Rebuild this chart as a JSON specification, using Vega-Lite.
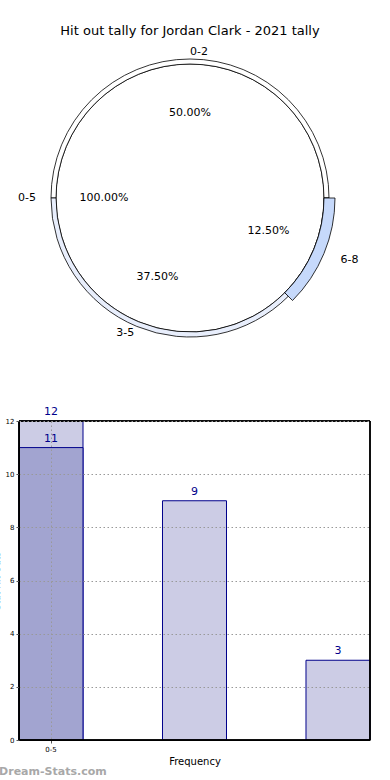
{
  "$schema": "https://vega.github.io/schema/vega-lite/v6.json",
  "padding": {"left": -8, "top": 25, "right": 0, "bottom": 2},
  "background": "white",
  "config": {
    "font": "DejaVu Sans",
    "view": {"stroke": null},
    "concat": {"spacing": 58}
  },
  "title": {"text": "Dream-Stats.com", "orient": "bottom", "anchor": "start", "frame": "bounds", "dx": 7, "fontSize": 11, "fontWeight": "bold", "color": "#a8a8a8", "offset": 0},
  "datasets": {
    "inner": [{"range": "0-5", "count": 8, "pct": "100.00%"}],
    "outer": [
      {"range": "0-2", "count": 4, "pct": "50.00%"},
      {"range": "3-5", "count": 3, "pct": "37.50%"},
      {"range": "6-8", "count": 1, "pct": "12.50%"}
    ],
    "bars": [
      {"bin": "0-5", "series": "A", "value": 12},
      {"bin": "6-10", "series": "A", "value": 9},
      {"bin": "11-15", "series": "A", "value": 3},
      {"bin": "0-5", "series": "B", "value": 11}
    ]
  },
  "vconcat": [
    {
      "width": 342,
      "height": 300,
      "title": {"text": "Hit out tally for Jordan Clark - 2021 tally", "fontSize": 13, "fontWeight": "normal", "offset": 8, "anchor": "middle"},
      "layer": [
        {
          "data": {"name": "inner"},
          "mark": {"type": "arc", "outerRadius": 134, "fill": "white", "stroke": "black", "strokeWidth": 0.8},
          "encoding": {
            "theta": {"field": "count", "type": "quantitative", "stack": true, "scale": {"domain": [0, 8], "range": [1.5708, 7.854]}}
          }
        },
        {
          "data": {"name": "outer"},
          "mark": {"type": "arc", "radius": 139, "radius2": 134, "stroke": "black", "strokeWidth": 0.8},
          "encoding": {
            "theta": {"field": "count", "type": "quantitative", "stack": true},
            "order": {"field": "range", "sort": "descending"},
            "fill": {"field": "range", "type": "nominal", "legend": null, "scale": {"domain": ["0-2", "3-5", "6-8"], "range": ["#ffffff", "#e8eefc", "#c6d9fb"]}}
          }
        },
        {
          "data": {"name": "outer"},
          "transform": [
            {"stack": "count", "groupby": [], "sort": [{"field": "range", "order": "descending"}], "as": ["t0", "t1"]},
            {"filter": "datum.range == '6-8'"}
          ],
          "mark": {"type": "arc", "radius": 145, "radius2": 134, "stroke": "black", "strokeWidth": 0.8, "fill": "#c6d9fb"},
          "encoding": {
            "theta": {"field": "t0", "type": "quantitative"},
            "theta2": {"field": "t1"}
          }
        },
        {
          "data": {"name": "outer"},
          "mark": {"type": "text", "radius": {"expr": "datum.range == '6-8' ? 163 : 146"}, "fontSize": 11, "baseline": "middle", "align": {"expr": "datum.range == '3-5' ? 'right' : 'left'"}},
          "encoding": {
            "theta": {"field": "count", "type": "quantitative", "stack": true},
            "order": {"field": "range", "sort": "descending"},
            "text": {"field": "range"}
          }
        },
        {
          "data": {"name": "outer"},
          "mark": {"type": "text", "radius": 85, "fontSize": 11, "baseline": "middle"},
          "encoding": {
            "theta": {"field": "count", "type": "quantitative", "stack": true},
            "order": {"field": "range", "sort": "descending"},
            "text": {"field": "pct"}
          }
        },
        {
          "data": {"name": "inner"},
          "mark": {"type": "text", "radius": 154, "fontSize": 11, "baseline": "middle", "align": "right"},
          "encoding": {
            "theta": {"field": "count", "type": "quantitative", "stack": true},
            "text": {"field": "range"}
          }
        },
        {
          "data": {"name": "inner"},
          "mark": {"type": "text", "radius": 86, "fontSize": 11, "baseline": "middle"},
          "encoding": {
            "theta": {"field": "count", "type": "quantitative", "stack": true},
            "text": {"field": "pct"}
          }
        }
      ]
    },
    {
      "width": 351,
      "height": 319,
      "data": {"name": "bars"},
      "encoding": {
        "x": {"field": "bin", "type": "nominal", "sort": null,
          "scale": {"paddingInner": 0.554, "paddingOuter": 0},
          "axis": {"title": "Frequency", "titleFontSize": 10, "titleFontWeight": "normal", "titlePadding": 4, "labelAngle": 0, "labelFontSize": 7, "labelColor": "black", "tickSize": 3, "tickColor": "#555", "tickOpacity": {"condition": {"test": "datum.value == '0-5'", "value": 1}, "value": 0}, "domainColor": "black", "labelExpr": "datum.value == '0-5' ? datum.value : ''", "grid": true, "zindex": 1, "gridDash": [1.5, 2.5], "gridColor": "#999", "gridOpacity": {"condition": {"test": "datum.value == '0-5'", "value": 1}, "value": 0}}
        },
        "y": {"field": "value", "type": "quantitative", "stack": null,
          "scale": {"domain": [0, 12]},
          "axis": {"title": "Stat Hit Outs", "titleFontSize": 9, "titleFontWeight": "normal", "titlePadding": 4, "labelFontSize": 7, "labelColor": "black", "values": [0, 2, 4, 6, 8, 10, 12], "tickSize": 3, "tickColor": "#555", "domainColor": "black", "zindex": 1, "gridDash": [1.5, 2.5], "gridColor": "#999"}
        }
      },
      "layer": [
        {
          "transform": [{"filter": "datum.series == 'A'"}],
          "mark": {"type": "bar", "fill": "#ccccE5", "stroke": "#00008b", "strokeWidth": 1}
        },
        {
          "transform": [{"filter": "datum.series == 'B'"}],
          "mark": {"type": "bar", "fill": "#a2a4d0", "stroke": "#00008b", "strokeWidth": 1}
        },
        {
          "mark": {"type": "text", "dy": -9, "fontSize": 11, "color": "#00008b", "baseline": "middle"},
          "encoding": {"text": {"field": "value"}}
        },
        {
          "mark": {"type": "rect", "fill": null, "stroke": "black", "strokeWidth": 1},
          "encoding": {"x": {"value": 0}, "x2": {"value": 351}, "y": {"value": 0}, "y2": {"value": 319}}
        }
      ]
    }
  ]
}
